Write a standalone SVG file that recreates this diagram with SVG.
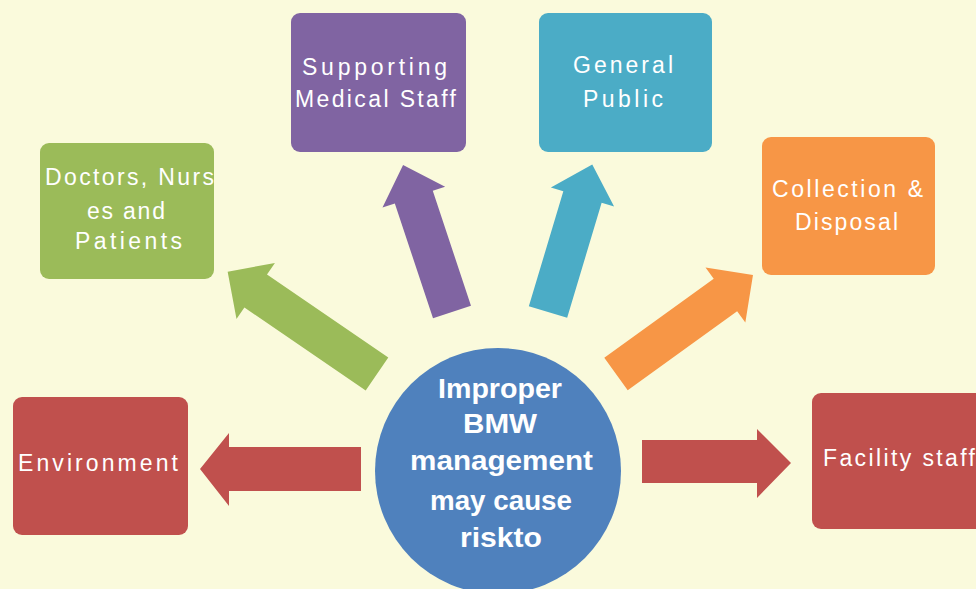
<svg xmlns="http://www.w3.org/2000/svg" width="976" height="589" viewBox="0 0 976 589">
<style>
.bg{fill:#FAFADC}
.t{font-family:"Liberation Sans",Arial,sans-serif;fill:#FFFFFF;font-size:23px}
.c{font-size:28px;font-weight:bold}
.red{fill:#C0504D}.green{fill:#9BBB59}.purple{fill:#8064A2}.blue{fill:#4BACC6}.orange{fill:#F79646}.center{fill:#4F81BD}
</style>
<rect class="bg" x="0" y="0" width="976" height="589"/>
<g id="connectors">
<polygon class="red" points="361,447 229,447 229,433 200,469 229,506 229,491 361,491"/>
<polygon class="red" points="642,440 757,440 757,429 791,463 757,498 757,483 642,483"/>
<polygon class="green" transform="translate(377,374) rotate(-145.6)" points="0,-20 147,-20 147,-34 181,0 147,34 147,20 0,20"/>
<polygon class="purple" transform="translate(452,312) rotate(-108.4)" points="0,-20 121,-20 121,-33 155,0 121,33 121,20 0,20"/>
<polygon class="blue" transform="translate(548,312) rotate(-73.3)" points="0,-20 120,-20 120,-33 154,0 120,33 120,20 0,20"/>
<polygon class="orange" transform="translate(616,374) rotate(-35.85)" points="0,-20 135,-20 135,-34 169,0 135,34 135,20 0,20"/>
</g>
<g id="center">
<circle class="center" cx="498" cy="471" r="123"/>
<text class="t c" x="438" y="398" textLength="124" lengthAdjust="spacingAndGlyphs">Improper</text>
<text class="t c" x="463" y="433" textLength="74" lengthAdjust="spacingAndGlyphs">BMW</text>
<text class="t c" x="410" y="470" textLength="183" lengthAdjust="spacingAndGlyphs">management</text>
<text class="t c" x="430" y="510" textLength="142" lengthAdjust="spacingAndGlyphs">may cause</text>
<text class="t c" x="460" y="547" textLength="82" lengthAdjust="spacingAndGlyphs">riskto</text>
</g>
<g id="environment">
<rect class="red" x="13" y="397" width="175" height="138" rx="9"/>
<text class="t" x="18" y="471" textLength="160" lengthAdjust="spacing">Environment</text>
</g>
<g id="doctors">
<rect class="green" x="40" y="143" width="174" height="136" rx="9"/>
<text class="t" x="45" y="185" textLength="169" lengthAdjust="spacing">Doctors, Nurs</text>
<text class="t" x="87" y="219" textLength="78" lengthAdjust="spacing">es and</text>
<text class="t" x="75" y="249" textLength="107" lengthAdjust="spacing">Patients</text>
</g>
<g id="supporting">
<rect class="purple" x="291" y="13" width="175" height="139" rx="9"/>
<text class="t" x="302" y="75" textLength="145" lengthAdjust="spacing">Supporting</text>
<text class="t" x="295" y="107" textLength="161" lengthAdjust="spacing">Medical Staff</text>
</g>
<g id="public">
<rect class="blue" x="539" y="13" width="173" height="139" rx="9"/>
<text class="t" x="573" y="73" textLength="100" lengthAdjust="spacing">General</text>
<text class="t" x="583" y="107" textLength="80" lengthAdjust="spacing">Public</text>
</g>
<g id="collection">
<rect class="orange" x="762" y="137" width="173" height="138" rx="9"/>
<text class="t" x="772" y="197" textLength="151" lengthAdjust="spacing">Collection &amp;</text>
<text class="t" x="795" y="230" textLength="103" lengthAdjust="spacing">Disposal</text>
</g>
<g id="facility">
<rect class="red" x="812" y="393" width="180" height="136" rx="9"/>
<text class="t" x="823" y="466" textLength="152" lengthAdjust="spacing">Facility staff</text>
</g>
</svg>
